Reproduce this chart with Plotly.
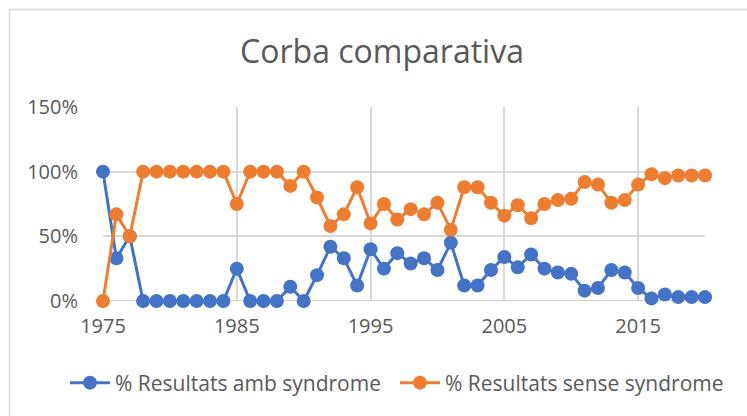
import plotly.graph_objects as go

years = list(range(1975, 2021))

# % Resultats amb syndrome
amb = [100, 33, 50, 0, 0, 0, 0, 0, 0, 0,
       25, 0, 0, 0, 11, 0, 20, 42, 33, 12,
       40, 25, 37, 29, 33, 24, 45, 12, 12, 24,
       34, 26, 36, 25, 22, 21, 8, 10, 24, 22,
       10, 2, 5, 3, 3, 3]

# % Resultats sense syndrome
sense = [0, 67, 50, 100, 100, 100, 100, 100, 100, 100,
         75, 100, 100, 100, 89, 100, 80, 58, 67, 88,
         60, 75, 63, 71, 67, 76, 55, 88, 88, 76,
         66, 74, 64, 75, 78, 79, 92, 90, 76, 78,
         90, 98, 95, 97, 97, 97]

amb_frac = [v / 100 for v in amb]
sense_frac = [v / 100 for v in sense]

fig = go.Figure()
fig.add_trace(go.Scatter(
    x=years, y=amb_frac, mode='lines+markers',
    name='% Resultats amb syndrome',
    line=dict(color='#4472C4', width=3),
    marker=dict(color='#4472C4', size=14),
    cliponaxis=False, legend='legend'
))
fig.add_trace(go.Scatter(
    x=years, y=sense_frac, mode='lines+markers',
    name='% Resultats sense syndrome',
    line=dict(color='#ED7D31', width=3),
    marker=dict(color='#ED7D31', size=14),
    cliponaxis=False, legend='legend2'
))

L, R, T, B = 103, 42, 107, 115
pw, ph = 747 - L - R, 416 - T - B

leg_common = dict(orientation='h', xref='container', yref='container',
                  xanchor='left', y=1 - 383 / 416, yanchor='middle',
                  font=dict(size=21, color='#595959'), itemwidth=40,
                  bgcolor='rgba(0,0,0,0)')

fig.update_layout(
    width=747, height=416,
    margin=dict(l=L, r=R, t=T, b=B, autoexpand=False),
    paper_bgcolor='white', plot_bgcolor='white',
    font=dict(family='Open Sans', color='#595959', size=20),
    title=dict(text='Corba comparativa', x=382 / 747, xanchor='center',
               y=1 - 52 / 416, yanchor='middle',
               font=dict(size=32, color='#595959')),
    xaxis=dict(range=[1975, 2020], tick0=1975, dtick=10,
               showgrid=True, gridcolor='#d9d9d9', gridwidth=1.5,
               zeroline=False, showline=False, ticks='',
               ticklabelstandoff=11,
               tickfont=dict(size=20, color='#595959')),
    yaxis=dict(range=[0, 1.5], dtick=0.5, tickformat='.0%',
               showgrid=True, gridcolor='#d9d9d9', gridwidth=1.5,
               zeroline=False, showline=False, ticks='',
               ticklabelstandoff=24,
               tickfont=dict(size=20, color='#595959')),
    legend=dict(x=65 / 747, **leg_common),
    legend2=dict(x=395 / 747, **leg_common),
    showlegend=True,
)

# x axis baseline
fig.add_shape(type='line', xref='paper', yref='y', x0=0, x1=1, y0=0, y1=0,
              line=dict(color='#bfbfbf', width=1.5), layer='below')

# chart border (cropped at right and bottom in the original)
fig.add_shape(type='rect', xref='paper', yref='paper',
              x0=-(L - 9.5) / pw, x1=1 + (R + 10) / pw,
              y0=-(B + 10) / ph, y1=1 + (T - 9.5) / ph,
              line=dict(color='#d9d9d9', width=1.5))

fig.write_html("out.html", config={'displayModeBar': False},
               post_script="document.body.style.margin='0';")
